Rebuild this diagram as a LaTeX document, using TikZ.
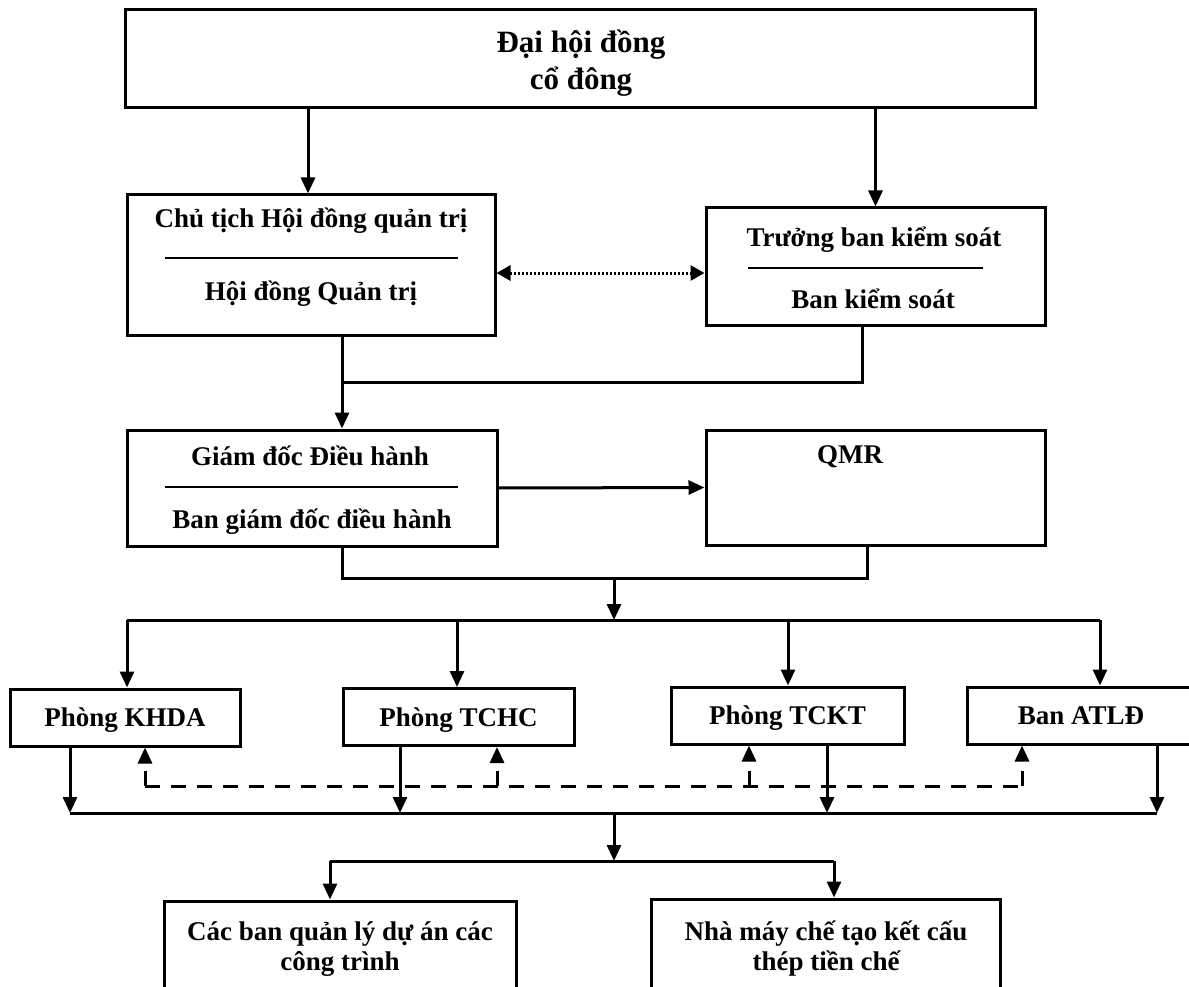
\documentclass[tikz,border=0pt]{standalone}
\usepackage{fontspec}
\setmainfont{Liberation Serif}
\usetikzlibrary{arrows.meta}

\tikzset{
  box/.style={draw, line width=3pt, inner sep=0pt, text height=18pt, text depth=0pt,
    font=\fontsize{27}{30}\selectfont\bfseries},
  lbl/.style={inner sep=0pt, anchor=base, font=\fontsize{27}{30}\selectfont\bfseries},
  biglbl/.style={lbl, font=\fontsize{31}{35}\selectfont\bfseries},
  sepline/.style={line width=2pt},
  conn/.style={line width=3pt},
  arr/.style={conn, -{Triangle[length=16pt,width=14pt]}},
  dashln/.style={line width=3pt, dash pattern=on 15pt off 11pt},
  dasharr/.style={dashln, -{Triangle[length=16pt,width=14pt]}},
  dotarr/.style={line width=3pt, dash pattern=on 2pt off 2pt,
    {Triangle[length=14pt,width=15pt]}-{Triangle[length=14pt,width=15pt]}}
}

\begin{document}
\begin{tikzpicture}[x=1pt,y=-1pt]
  \useasboundingbox (0,0) rectangle (1189,987);

  % top levels
  \node[box, minimum width=910pt, minimum height=98pt] (dhcd) at (580,59) {};
  \node[biglbl] (dhcdA) at (581,53) {Đại hội đồng};
  \node[biglbl] (dhcdB) at (581,90) {cổ đông};

  \node[box, minimum width=368pt, minimum height=140pt] (ct) at (311,265) {};
  \node[lbl] (ctA) at (311,228) {Chủ tịch Hội đồng quản trị};
  \node[lbl] (ctB) at (311,300) {Hội đồng Quản trị};
  \draw[sepline] (165,258) -- (458,258);

  \node[box, minimum width=339pt, minimum height=117pt] (tb) at (875.5,266.5) {};
  \node[lbl] (tbA) at (874,247) {Trưởng ban kiểm soát};
  \node[lbl] (tbB) at (873,308) {Ban kiểm soát};
  \draw[sepline] (748,268) -- (983,268);

  \node[box, minimum width=370pt, minimum height=116pt] (gd) at (312,488) {};
  \node[lbl] (gdA) at (310,465) {Giám đốc Điều hành};
  \node[lbl] (gdB) at (312,528) {Ban giám đốc điều hành};
  \draw[sepline] (165,487) -- (458,487);

  \node[box, minimum width=339pt, minimum height=115pt] (qmr) at (875.5,487.5) {};
  \node[lbl] (qmrT) at (850,463) {QMR};

  % departments
  \node[box, minimum width=230pt, minimum height=57pt] (khda) at (125,717.5) {Phòng KHDA};
  \node[box, minimum width=231pt, minimum height=57pt] (tchc) at (458.5,717) {Phòng TCHC};
  \node[box, minimum width=233pt, minimum height=57pt] (tckt) at (787.5,715.5) {Phòng TCKT};
  \node[box, minimum width=228pt, minimum height=57pt] (atld) at (1081,715.5) {Ban ATLĐ};

  % units
  \node[box, minimum width=352pt, minimum height=100pt] (cac) at (340,951) {};
  \node[lbl] (cacA) at (340,940) {Các ban quản lý dự án các};
  \node[lbl] (cacB) at (340,970) {công trình};
  \node[box, minimum width=349pt, minimum height=100pt] (nha) at (825.5,949) {};
  \node[lbl] (nhaA) at (826,940) {Nhà máy chế tạo kết cấu};
  \node[lbl] (nhaB) at (826,970) {thép tiền chế};

  % connectors
  \draw[arr] (dhcd.south -| 308,0) -- (ct.north -| 308,0);
  \draw[arr] (dhcd.south -| tb.north) -- (tb.north);
  \draw[dotarr] (ct.east |- 0,273) -- (tb.west |- 0,273);

  \coordinate (j1) at (342,382);
  \coordinate (j2) at (862,382);
  \draw[conn] (ct.south -| j1) -- (j1) -- (j2) -- (tb.south -| j2);
  \draw[arr] (j1) -- (gd.north -| j1);

  \draw[arr] (gd.east) -- (qmr.west);

  \coordinate (j3) at (342,578);
  \coordinate (j4) at (867,578);
  \coordinate (j5) at (614,578);
  \coordinate (j6) at (614,620);
  \draw[conn] (gd.south -| j3) -- (j3) -- (j4) -- (qmr.south -| j4);
  \draw[arr] (j5) -- (j6);

  \coordinate (b1) at (127,620);
  \coordinate (b2) at (1100,620);
  \draw[conn] (b1) -- (b2);
  \foreach \n/\x in {khda/127, tchc/457, tckt/788, atld/1100}
    \draw[arr] (\x,620) -- (\n.north -| \x,0);

  \draw[dashln] (145,786) -- (1022,786);
  \foreach \n/\x in {khda/145, tchc/497, tckt/749, atld/1022}
    \draw[dasharr] (\x,786) -- (\n.south -| \x,0);

  \coordinate (c1) at (70,813);
  \coordinate (c2) at (1157,813);
  \draw[conn] (c1) -- (c2);
  \foreach \n/\x in {khda/70, tchc/400, tckt/827, atld/1157}
    \draw[arr] (\n.south -| \x,0) -- (\x,813);

  \coordinate (k1) at (614,813);
  \coordinate (k2) at (614,861);
  \coordinate (k3) at (330,861);
  \coordinate (k4) at (834,861);
  \draw[arr] (k1) -- (k2);
  \draw[conn] (k3) -- (k4);
  \draw[arr] (k3) -- (cac.north -| k3);
  \draw[arr] (k4) -- (nha.north -| k4);
\end{tikzpicture}
\end{document}
